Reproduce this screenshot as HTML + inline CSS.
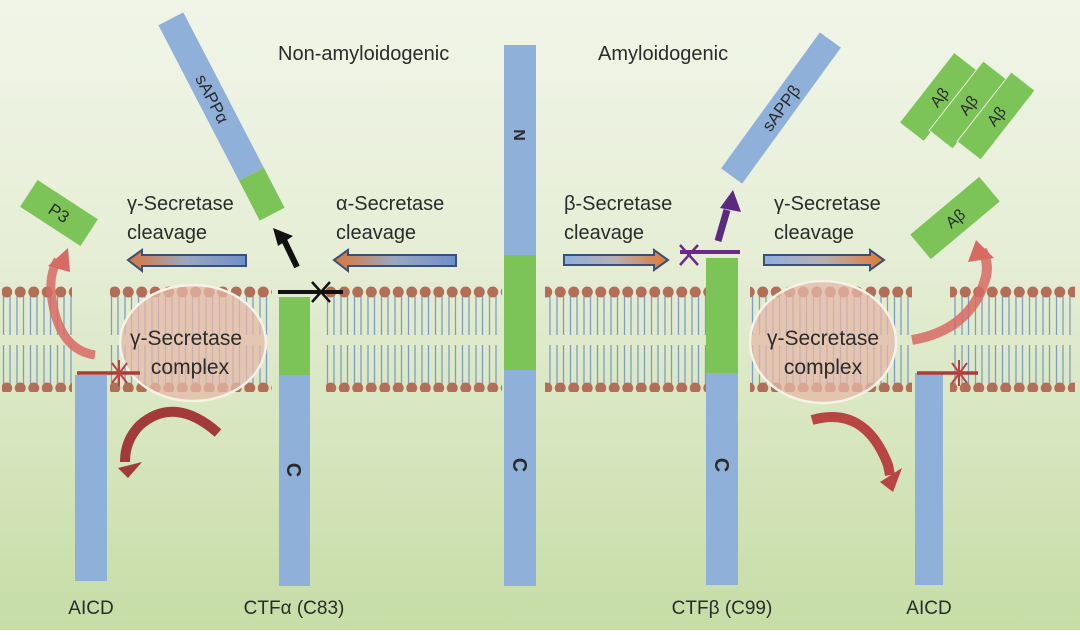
<!DOCTYPE html>
<html><head><meta charset="utf-8"><style>
html,body{margin:0;padding:0;}
body{width:1080px;height:630px;overflow:hidden;font-family:"Liberation Sans",sans-serif;}
svg text{font-family:"Liberation Sans",sans-serif;fill:#2b2b2b;}
</style></head><body>
<svg width="1080" height="630" viewBox="0 0 1080 630" xmlns="http://www.w3.org/2000/svg">
<defs>
<linearGradient id="bg" x1="0" y1="0" x2="0" y2="1">
<stop offset="0" stop-color="#f1f5e8"/><stop offset="0.4" stop-color="#e6eed6"/><stop offset="1" stop-color="#c6dda6"/>
</linearGradient>
<linearGradient id="ar1" x1="0" y1="0" x2="1" y2="0">
<stop offset="0" stop-color="#d8783a"/><stop offset="0.5" stop-color="#9aa8c0"/><stop offset="1" stop-color="#6f8fc8"/>
</linearGradient>
<linearGradient id="ar2" x1="0" y1="0" x2="1" y2="0">
<stop offset="0" stop-color="#8fb0e0"/><stop offset="0.5" stop-color="#b8b0b0"/><stop offset="1" stop-color="#e07a30"/>
</linearGradient>
<pattern id="lip" x="0" y="0" width="13.5" height="110" patternUnits="userSpaceOnUse">
<path d="M3.5 292 V335 M10 292 V335 M3.5 345 V388 M10 345 V388" stroke="#7f9cc4" stroke-width="1.3" fill="none" transform="translate(0,-282)"/>
<circle cx="6.75" cy="10" r="5.5" fill="#b36e58"/>
<circle cx="6.75" cy="106" r="5.5" fill="#b36e58"/>
</pattern>
</defs>
<rect width="1080" height="630" fill="url(#bg)"/>

<g transform="translate(0,282)">
<rect x="2" y="0" width="70" height="112" fill="url(#lip)"/>
<rect x="110" y="0" width="162" height="112" fill="url(#lip)"/>
<rect x="326" y="0" width="176" height="112" fill="url(#lip)"/>
<rect x="545" y="0" width="162" height="112" fill="url(#lip)"/>
<rect x="750" y="0" width="162" height="112" fill="url(#lip)"/>
<rect x="950" y="0" width="125" height="112" fill="url(#lip)"/>
</g>

<ellipse cx="193" cy="343" rx="73" ry="58" fill="#e6b8a8" fill-opacity="0.75" stroke="#f6f2e8" stroke-width="2.5"/>
<ellipse cx="823" cy="342" rx="73" ry="61" fill="#e6b8a8" fill-opacity="0.75" stroke="#f6f2e8" stroke-width="2.5"/>
<text x="186" y="345" font-size="21" text-anchor="middle">γ-Secretase</text>
<text x="190" y="374" font-size="21" text-anchor="middle">complex</text>
<text x="823" y="345" font-size="21" text-anchor="middle">γ-Secretase</text>
<text x="823" y="374" font-size="21" text-anchor="middle">complex</text>

<rect x="75" y="375" width="32" height="206" fill="#8fb0d8"/>
<rect x="279" y="297" width="31" height="78" fill="#7cc458"/>
<rect x="279" y="375" width="31" height="211" fill="#8fb0d8"/>
<rect x="504" y="45" width="32" height="210" fill="#8fb0d8"/>
<rect x="504" y="255" width="32" height="115" fill="#7cc458"/>
<rect x="504" y="370" width="32" height="216" fill="#8fb0d8"/>
<rect x="706" y="258" width="32" height="115" fill="#7cc458"/>
<rect x="706" y="373" width="32" height="212" fill="#8fb0d8"/>
<rect x="915" y="373" width="28" height="212" fill="#8fb0d8"/>

<text transform="translate(520,135) rotate(90)" font-size="16" font-weight="bold" text-anchor="middle" dy="6">N</text>
<text transform="translate(520,465) rotate(90)" font-size="20" font-weight="bold" text-anchor="middle" dy="7">C</text>
<text transform="translate(294,470) rotate(90)" font-size="20" font-weight="bold" text-anchor="middle" dy="7">C</text>
<text transform="translate(722,465) rotate(90)" font-size="20" font-weight="bold" text-anchor="middle" dy="7">C</text>

<line x1="278" y1="292" x2="343" y2="292" stroke="#111" stroke-width="4"/>
<path d="M312 282 L330 302 M330 282 L312 302" stroke="#111" stroke-width="2.5"/>
<line x1="77" y1="373" x2="140" y2="373" stroke="#b03a38" stroke-width="3.5"/>
<path d="M112 363 L127 383 M127 363 L112 383 M119 360 V386" stroke="#c04040" stroke-width="2"/>
<line x1="680" y1="252" x2="740" y2="252" stroke="#6a2a88" stroke-width="4"/>
<path d="M680 245 L698 265 M698 245 L680 265" stroke="#6a2a88" stroke-width="2.5"/>
<line x1="917" y1="373" x2="978" y2="373" stroke="#b03a38" stroke-width="3.5"/>
<path d="M952 363 L967 383 M967 363 L952 383 M959 360 V386" stroke="#c04040" stroke-width="2"/>

<g transform="translate(221.5,116.5) rotate(-27.4)">
<rect x="-14" y="-110" width="28" height="175" fill="#8fb0d8"/>
<rect x="-14" y="65" width="28" height="45" fill="#7cc458"/>
<text transform="rotate(90)" x="-20" y="6" font-size="17" text-anchor="middle">sAPPα</text>
</g>
<g transform="translate(781,108) rotate(36)">
<rect x="-13" y="-84" width="26" height="168" fill="#8fb0d8"/>
<text transform="rotate(-90)" x="0" y="6" font-size="17" text-anchor="middle">sAPPβ</text>
</g>
<g transform="translate(939,97) rotate(38)"><rect x="-15" y="-44" width="30" height="88" fill="#7cc458"/><text transform="rotate(-90)" y="6" font-size="16" text-anchor="middle">Aβ</text></g>
<g transform="translate(968,105) rotate(38)"><rect x="-15" y="-44" width="30" height="88" fill="#7cc458" stroke="#e6eed6" stroke-width="1"/><text transform="rotate(-90)" y="6" font-size="16" text-anchor="middle">Aβ</text></g>
<g transform="translate(996,116) rotate(38)"><rect x="-15" y="-44" width="30" height="88" fill="#7cc458" stroke="#e6eed6" stroke-width="1"/><text transform="rotate(-90)" y="6" font-size="16" text-anchor="middle">Aβ</text></g>
<g transform="translate(955,218) rotate(50)"><rect x="-16" y="-45" width="32" height="90" fill="#7cc458"/><text transform="rotate(-90)" y="6" font-size="16" text-anchor="middle">Aβ</text></g>
<g transform="translate(59,213) rotate(33)"><rect x="-36" y="-16" width="72" height="32" fill="#7cc458"/><text y="6" font-size="17" text-anchor="middle">P3</text></g>

<path d="M297 267 L284 240" stroke="#111" stroke-width="6"/>
<polygon points="273,228 293,236 278,246" fill="#111"/>
<path d="M718 241 L727 210" stroke="#5a2a80" stroke-width="7"/>
<polygon points="733,190 741,212 720,208" fill="#5a2a80"/>

<polygon points="128,260 142,250 142,255 246,255 246,266 142,266 142,271" fill="url(#ar1)" stroke="#3a5078" stroke-width="2"/>
<polygon points="334,260 348,250 348,255 456,255 456,266 348,266 348,271" fill="url(#ar1)" stroke="#3a5078" stroke-width="2"/>
<polygon points="564,255 654,255 654,250 668,260 654,270 654,265 564,265" fill="url(#ar2)" stroke="#3a5078" stroke-width="2"/>
<polygon points="764,255 870,255 870,250 884,260 870,270 870,265 764,265" fill="url(#ar2)" stroke="#3a5078" stroke-width="2"/>

<path d="M95 355 Q60 350 52 300 Q48 275 58 260" fill="none" stroke="#d86a64" stroke-width="9" opacity="0.85"/>
<polygon points="68,248 70,272 48,266" fill="#d86a64"/>
<path d="M218 433 Q175 395 140 425 Q125 440 125 462" fill="none" stroke="#a23a3a" stroke-width="10"/>
<polygon points="118,468 142,462 128,478" fill="#a23a3a"/>
<path d="M912 340 Q970 330 985 280 Q990 265 982 250" fill="none" stroke="#d86a64" stroke-width="10" opacity="0.85"/>
<polygon points="976,240 994,258 968,262" fill="#d86a64"/>
<path d="M812 420 Q865 405 888 465 L890 475" fill="none" stroke="#b84444" stroke-width="10"/>
<polygon points="880,482 902,468 893,492" fill="#b84444"/>

<text x="278" y="60" font-size="20">Non-amyloidogenic</text>
<text x="598" y="60" font-size="20">Amyloidogenic</text>
<text x="127" y="210" font-size="20">γ-Secretase</text>
<text x="127" y="239" font-size="20">cleavage</text>
<text x="336" y="210" font-size="20">α-Secretase</text>
<text x="336" y="239" font-size="20">cleavage</text>
<text x="564" y="210" font-size="20">β-Secretase</text>
<text x="564" y="239" font-size="20">cleavage</text>
<text x="774" y="210" font-size="20">γ-Secretase</text>
<text x="774" y="239" font-size="20">cleavage</text>
<text x="91" y="614" font-size="19" text-anchor="middle">AICD</text>
<text x="294" y="614" font-size="19" text-anchor="middle">CTFα (C83)</text>
<text x="722" y="614" font-size="19" text-anchor="middle">CTFβ (C99)</text>
<text x="929" y="614" font-size="19" text-anchor="middle">AICD</text>
</svg>
</body></html>
